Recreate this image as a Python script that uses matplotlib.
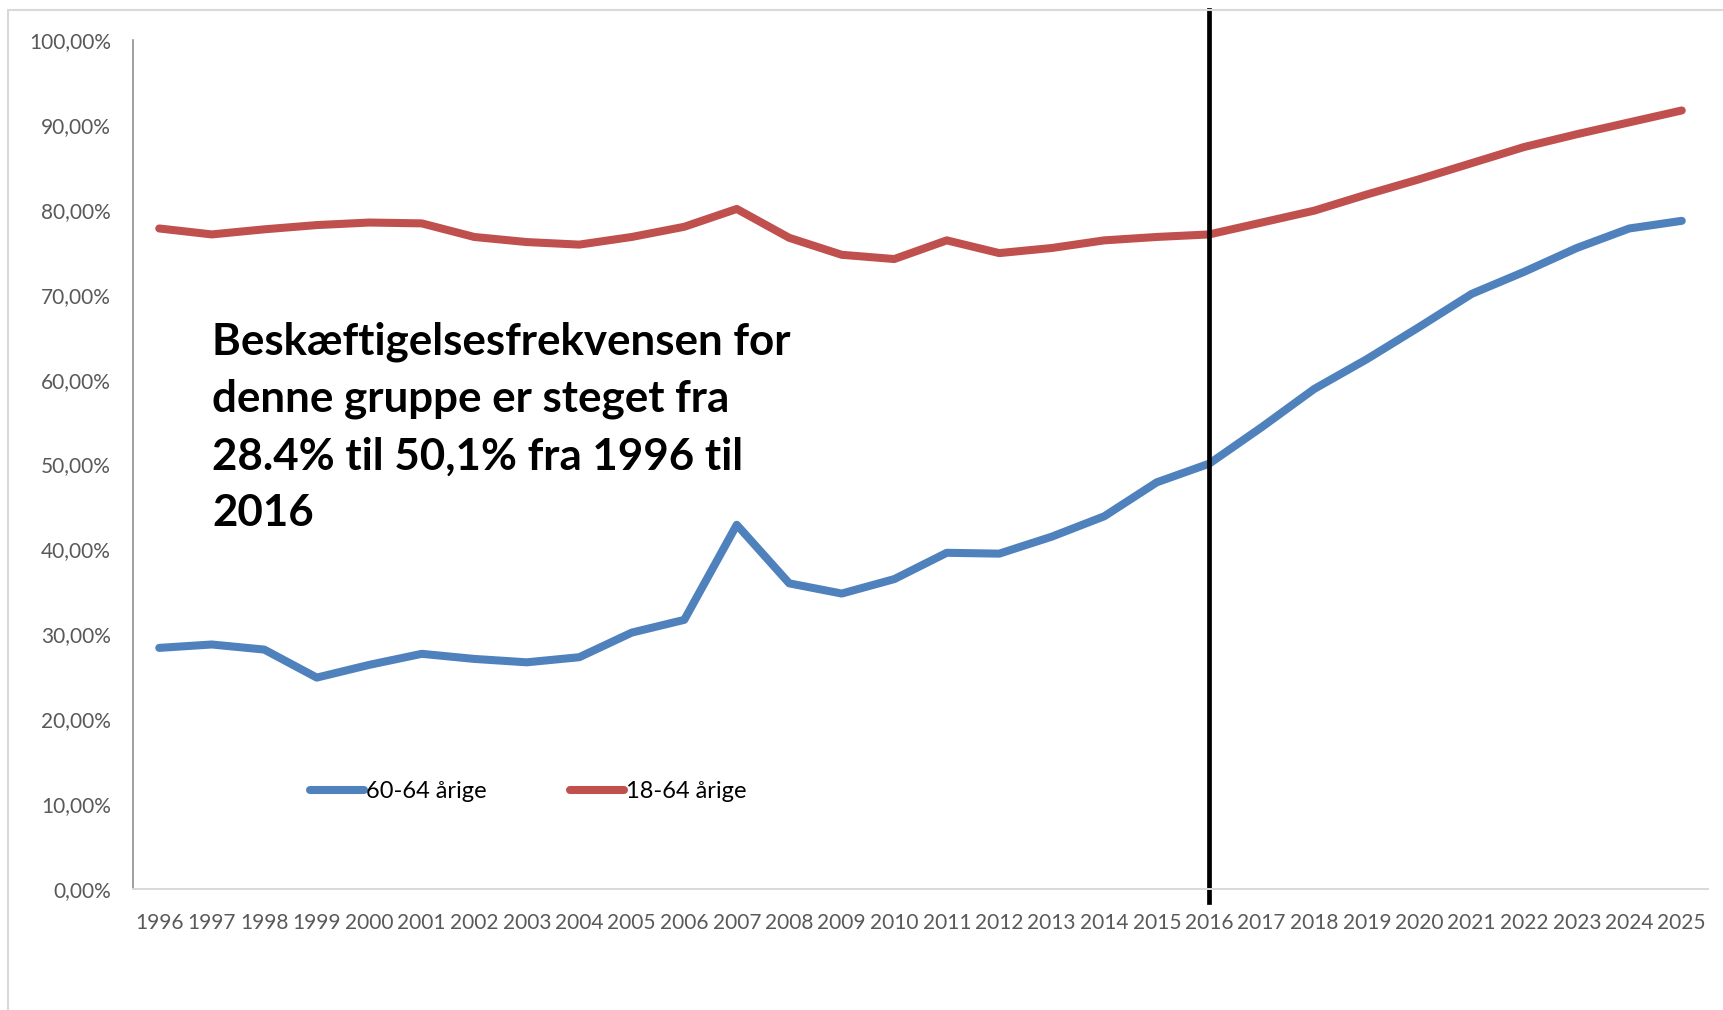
import numpy as np
import matplotlib
matplotlib.use("Agg")
import matplotlib.pyplot as plt
from matplotlib.patches import Rectangle

# data (employment rate, %)
years = list(range(1996, 2026))
age_60_64 = [28.4, 28.8, 28.2, 24.9, 26.4, 27.7, 27.1, 26.7, 27.3, 30.2,
             31.7, 42.9, 36.0, 34.8, 36.5, 39.6, 39.5, 41.5, 43.9, 47.9,
             50.1, 54.4, 58.9, 62.4, 66.2, 70.1, 72.7, 75.5, 77.8, 78.7]
age_18_64 = [77.8, 77.1, 77.7, 78.2, 78.5, 78.4, 76.8, 76.2, 75.9, 76.8,
             78.0, 80.1, 76.7, 74.7, 74.2, 76.4, 74.9, 75.5, 76.4, 76.8,
             77.1, 78.5, 79.9, 81.8, 83.6, 85.5, 87.4, 88.9, 90.3, 91.7]
labels = ["60-64 årige", "18-64 årige"]
y_ticks = list(range(0, 101, 10))
marker_year = 2016
note = ("Beskæftigelsesfrekvensen for\ndenne gruppe er steget fra\n"
        "28.4% til 50,1% fra 1996 til\n2016")

plt.rcParams['font.family'] = ['Lato', 'DejaVu Sans']

fig = plt.figure(figsize=(17.23, 10.10), dpi=100)
ax = fig.add_axes([133 / 1723, 1 - 889 / 1010, 1575 / 1723, 849 / 1010])

x = np.arange(len(years))
ax.plot(x, age_60_64, color="#4F81BD", lw=5.8, solid_capstyle="round",
        solid_joinstyle="round", label=labels[0])
ax.plot(x, age_18_64, color="#C0504D", lw=5.8, solid_capstyle="round",
        solid_joinstyle="round", label=labels[1])

ax.set_xlim(-0.5, len(years) - 0.5)
ax.set_ylim(0, 100)

# vertical marker at 2016, reaching past the plot area like in the original
xi = years.index(marker_year)
ax.plot([xi, xi], [-1.5, 103.5], color="black", lw=3.4, clip_on=False)

ax.set_xticks(x)
ax.set_xticklabels([str(y) for y in years])
ax.set_yticks(y_ticks)
ax.set_yticklabels([f"{v},00%" for v in y_ticks])
ax.tick_params(axis="both", length=0, labelsize=15, labelcolor="#595959")
ax.tick_params(axis="y", pad=16)
ax.tick_params(axis="x", pad=17)

for s in ["top", "right"]:
    ax.spines[s].set_visible(False)
ax.spines["left"].set_color("#868686")
ax.spines["left"].set_linewidth(1.1)
ax.spines["bottom"].set_color("#d9d9d9")
ax.spines["bottom"].set_linewidth(1.4)

leg = ax.legend(loc="center left", bbox_to_anchor=(289 / 1723, 1 - 792 / 1010),
                bbox_transform=fig.transFigure, ncol=2, frameon=False,
                fontsize=17, handlelength=2.26, handletextpad=0.1,
                columnspacing=3.55)
for t in leg.get_texts():
    t.set_color("black")

fig.text(212 / 1723, 1 - 321 / 1010, note, fontsize=31.6, fontweight="bold",
         va="top", ha="left", linespacing=1.52)

# outer chart border
fig.add_artist(Rectangle((8 / 1723, -0.05), 1.1, 1.05 - 10 / 1010,
                         transform=fig.transFigure, fill=False,
                         edgecolor="#d9d9d9", lw=1.5))

fig.savefig("out.png", dpi=100)
